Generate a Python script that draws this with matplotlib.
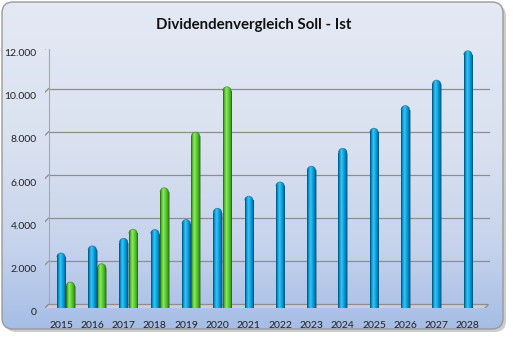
import numpy as np
import matplotlib
matplotlib.use("Agg")
import matplotlib.pyplot as plt
from matplotlib.patches import FancyBboxPatch, Rectangle, Ellipse, Polygon, Arc
from matplotlib.colors import LinearSegmentedColormap
from matplotlib.ticker import FuncFormatter
from matplotlib.transforms import ScaledTranslation

plt.rcParams['font.family'] = ['Lato', 'DejaVu Sans']

# Dividenden: Soll (Plan) und Ist
years = ['2015', '2016', '2017', '2018', '2019', '2020', '2021',
         '2022', '2023', '2024', '2025', '2026', '2027', '2028']
soll = [2550, 2880, 3230, 3640, 4100, 4620, 5180,
        5840, 6570, 7400, 8330, 9380, 10560, 11920]
ist = [1200, 2050, 3650, 5570, 8150, 10250]
y_ticks = [0, 2000, 4000, 6000, 8000, 10000, 12000]

W, H, DPI = 513, 337, 100
fig = plt.figure(figsize=(W / DPI, H / DPI), dpi=DPI, facecolor='white')

# --- Hintergrundkarte mit Verlauf ---
bg = fig.add_axes([0, 0, 1, 1], zorder=-5)
bg.set_xlim(0, W)
bg.set_ylim(H, 0)
bg.axis('off')
shadow = FancyBboxPatch((5, 5), 501, 327, boxstyle='round,pad=0,rounding_size=11',
                        fc='#b8b8b8', ec='none', alpha=0.7)
bg.add_patch(shadow)
card = FancyBboxPatch((2, 2), 501, 327, boxstyle='round,pad=0,rounding_size=11',
                      fc='none', ec='#9a9a9a', lw=1.0, zorder=3)
bg.add_patch(card)
clip = FancyBboxPatch((2, 2), 501, 327, boxstyle='round,pad=0,rounding_size=11',
                      fc='none', ec='none', transform=bg.transData)
bg.add_patch(clip)
grad_cmap = LinearSegmentedColormap.from_list(
    'card', [(0.0, '#e4e9f4'), (0.45, '#d9e1f0'), (0.75, '#c6d3ec'), (1.0, '#a5bde6')])
grad = np.linspace(0, 1, 256).reshape(-1, 1)
im = bg.imshow(grad, cmap=grad_cmap, extent=[2, 503, 329, 2], aspect='auto',
               interpolation='bicubic', zorder=1)
im.set_clip_path(clip)

fig.text(254 / W, 1 - 25 / H, 'Dividendenvergleich Soll - Ist',
         ha='center', va='center', fontsize=10.8, fontweight='bold', color='#111111')

# --- Diagramm ---
x0_px, step_px = 61.0, 31.3
left_px, right_px = 45.0, 492.0
zero_px, top_px = 308.0, 49.0
ax = fig.add_axes([left_px / W, (H - zero_px) / H,
                   (right_px - left_px) / W, (zero_px - top_px) / H])
ax.patch.set_alpha(0)
x_lo = (left_px - x0_px) / step_px
x_hi = (right_px - x0_px) / step_px
ax.set_xlim(x_lo, x_hi)
ax.set_ylim(0, 12000)
for s in ax.spines.values():
    s.set_visible(False)

depth = 3.5  # Pixelversatz Rueckwand/Vorderkante
back = ax.transData + ScaledTranslation(depth / DPI, depth / DPI, fig.dpi_scale_trans)
front = ax.transData + ScaledTranslation(-depth / DPI, -depth / DPI, fig.dpi_scale_trans)
x_back_end = x_hi - 2 * depth / step_px
inv = ax.transData.inverted()

# Gitterlinien an der Rueckwand
for v in y_ticks[1:]:
    ax.plot([x_lo, x_back_end], [v, v], color='#8e8e8e', lw=0.9,
            transform=back, zorder=1)

# Seitenwand: senkrechte Kanten + Diagonalen
ax.plot([x_lo, x_lo], [0, 12000], color='#a8a8a8', lw=0.8, transform=front, zorder=1)
ax.plot([x_lo, x_lo], [0, 12000], color='#a8a8a8', lw=0.8, transform=back, zorder=1)
for v in y_ticks:
    a = inv.transform(front.transform((x_lo, v)))
    b = inv.transform(back.transform((x_lo, v)))
    ax.plot([a[0], b[0]], [a[1], b[1]], color='#8e8e8e', lw=0.9, zorder=1)

# Boden
fl = [front.transform((x_lo, 0)), front.transform((x_back_end, 0)),
      back.transform((x_back_end, 0)), back.transform((x_lo, 0))]
fl = [inv.transform(p) for p in fl]
ax.add_patch(Polygon(fl, closed=True, fc='#c9cfdb', ec='#8e8e8e', lw=0.9, zorder=1))

# Zylinder-Saeulen
bar_w = 0.27
cap_r = (bar_w * step_px / 2) * 12000 / (zero_px - top_px)
shade_x = np.linspace(0, 1, 64).reshape(1, -1)
blue_cmap = LinearSegmentedColormap.from_list(
    'blue', [(0, '#005b8c'), (0.18, '#0097d4'), (0.38, '#40c8f7'),
             (0.55, '#14b0ea'), (0.82, '#0088c4'), (1, '#00507c')])
green_cmap = LinearSegmentedColormap.from_list(
    'green', [(0, '#2c7a14'), (0.18, '#52bf2a'), (0.38, '#96ee6a'),
              (0.55, '#66d63a'), (0.82, '#48b022'), (1, '#2a6e12')])


def cylinder(x, value, cmap, edge):
    xl, xr = x - bar_w / 2, x + bar_w / 2
    yc = value - cap_r
    body = Rectangle((xl, 0), bar_w, yc, transform=ax.transData, fc='none', ec='none')
    cap = Ellipse((x, yc), bar_w, 2 * cap_r, transform=ax.transData, fc='none', ec='none')
    for patch, (yb, yt) in [(body, (0, yc)), (cap, (yc - cap_r, value))]:
        ax.add_patch(patch)
        img = ax.imshow(shade_x, cmap=cmap, extent=[xl, xr, yb, yt], aspect='auto',
                        interpolation='bicubic', zorder=3)
        img.set_clip_path(patch)
    # Umriss: Seiten und gerundete Kappe
    ax.plot([xl, xl], [0, yc], color=edge, lw=0.5, alpha=0.6, zorder=4)
    ax.plot([xr, xr], [0, yc], color=edge, lw=0.5, alpha=0.6, zorder=4)
    ax.add_patch(Arc((x, yc), bar_w, 2 * cap_r, theta1=0, theta2=180,
                     color=edge, lw=0.5, alpha=0.6, zorder=4))


for i, v in enumerate(soll):
    cylinder(i, v, blue_cmap, '#0b4a66')
for i, v in enumerate(ist):
    cylinder(i + 0.3, v, green_cmap, '#235a10')

ax.set_xlim(x_lo, x_hi)
ax.set_ylim(0, 12000)

ax.set_xticks(range(len(years)))
ax.set_xticklabels(years, fontsize=7.5, color='#222222')
ax.set_yticks(y_ticks)
ax.yaxis.set_major_formatter(FuncFormatter(lambda v, p: f'{int(v):,}'.replace(',', '.')))
ax.tick_params(axis='both', length=0, labelsize=7.5, colors='#222222')
ax.tick_params(axis='x', pad=9)
ax.tick_params(axis='y', pad=6)
for lab in ax.get_yticklabels():
    lab.set_transform(lab.get_transform() +
                      ScaledTranslation(0, -depth / DPI, fig.dpi_scale_trans))

fig.savefig('out.png', dpi=DPI, facecolor='white')
